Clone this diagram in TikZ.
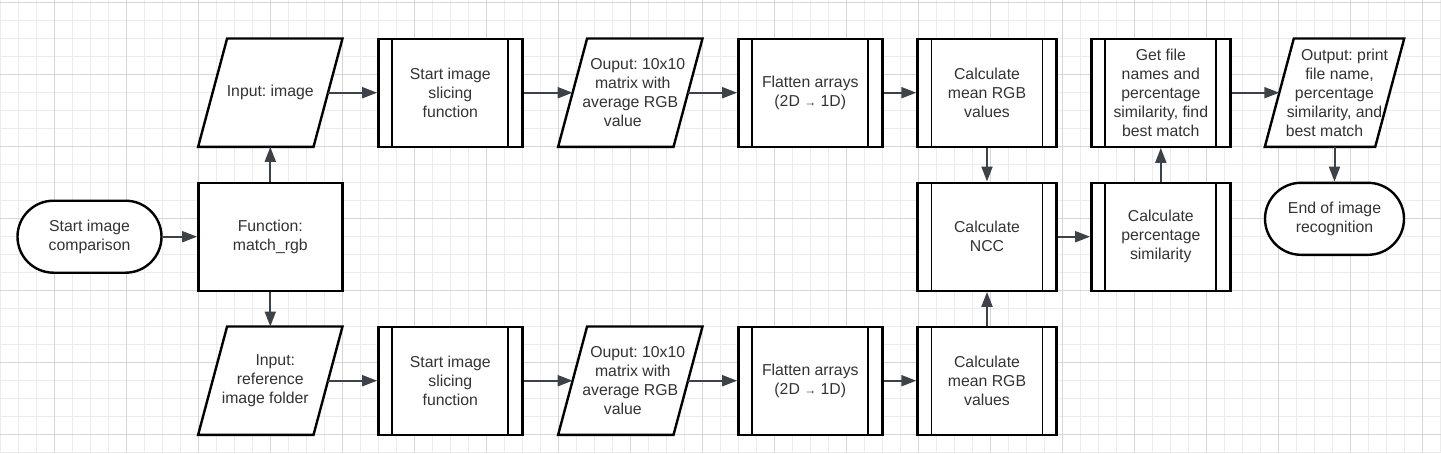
\documentclass[tikz,border=0pt]{standalone}
\usepackage{fontspec}
\setmainfont{Liberation Sans}
\frenchspacing
\usetikzlibrary{arrows.meta}
\definecolor{ink}{HTML}{333333}
\definecolor{linkcol}{HTML}{3D4249}
\definecolor{gridminor}{HTML}{ECECEC}
\definecolor{gridmajor}{HTML}{D6D6D6}
\newcommand{\smallarrow}{{\fontsize{12}{12}\selectfont →}}
% slanted outline of an input/output node (drawn behind its text)
\newcommand{\iopath}[1]{([xshift=-14.5pt]#1.south west) -- ([xshift=14.5pt]#1.north west)
  -- ([xshift=14.5pt]#1.north east) -- ([xshift=-14.5pt]#1.south east) -- cycle}
\pgfdeclarelayer{back}
\pgfsetlayers{back,main}

\begin{document}
\begin{tikzpicture}[
  x=1pt, y=-1pt,
  every node/.style={font=\fontsize{15.8}{19}\selectfont, text=ink, align=center},
  proc/.style={draw=black, line width=2.4pt, rectangle, fill=white,
    minimum width=139pt, minimum height=108pt, inner sep=0pt,
    path picture={
      \draw[black, line width=1.8pt]
        ([xshift=14pt]path picture bounding box.north west) --
        ([xshift=14pt]path picture bounding box.south west);
      \draw[black, line width=1.8pt]
        ([xshift=-14pt]path picture bounding box.north east) --
        ([xshift=-14pt]path picture bounding box.south east);}},
  plainbox/.style={draw=black, line width=2.4pt, rectangle, fill=white,
    minimum width=144pt, minimum height=108pt, inner sep=0pt},
  iobox/.style={rectangle, minimum width=115pt, minimum height=108pt, inner sep=0pt},
  ioline/.style={draw=black, fill=white, line width=2.4pt, line join=miter},
  term/.style={draw=black, line width=2.4pt, rectangle, fill=white,
    rounded corners=36pt, minimum width=144pt, minimum height=72pt, inner sep=0pt},
  link/.style={draw=linkcol, line width=2pt, -{Triangle[length=15pt,width=11pt]}}]

\useasboundingbox (0,0) rectangle (1441,453);

% ------------------------------------------------------------ grid paper
\begin{pgfonlayer}{back}
\foreach \k in {0,...,80}
  \draw[gridminor, line width=1pt] (0.3+18*\k,0) -- (0.3+18*\k,453);
\foreach \k in {0,...,25}
  \draw[gridminor, line width=1pt] (0,2.7+18*\k) -- (1441,2.7+18*\k);
\foreach \k in {3,7,...,79}
  \draw[gridmajor, line width=1pt] (0.3+18*\k,0) -- (0.3+18*\k,453);
\foreach \k in {0,4,...,24}
  \draw[gridmajor, line width=1pt] (0,2.7+18*\k) -- (1441,2.7+18*\k);
\end{pgfonlayer}

% ------------------------------------------------------------ start
\node[term] (start) at (89.5,236.7) {Start image\\comparison};
\node[plainbox] (func) at (270.3,236.7) {Function:\\match\_rgb};

% ------------------------------------------------------------ upper row
\node[iobox] (inimg) at (270.3,92.7) {Input: image};
\node[proc, minimum width=144pt] (sliceA) at (450.3,92.7)
  {Start image\\slicing\\function};
\node[iobox] (outA) at (630.3,92.7)
  {\hspace*{15pt}Ouput: 10x10\\\hspace*{5pt}matrix with\\average RGB\hspace*{5pt}\\value\hspace*{15pt}};
\node[proc, minimum width=144pt] (flatA) at (810.3,92.7)
  {Flatten arrays\\(2D \smallarrow{} 1D)};
\node[proc] (meanA) at (987,92.7) {Calculate\\mean RGB\\values};

% ------------------------------------------------------------ lower row
\node[iobox] (inref) at (270.3,380.7)
  {\hspace*{10pt}Input:\\reference\\image folder\hspace*{10pt}};
\node[proc, minimum width=144pt] (sliceB) at (450.3,380.7)
  {Start image\\slicing\\function};
\node[iobox] (outB) at (630.3,380.7)
  {\hspace*{15pt}Ouput: 10x10\\\hspace*{5pt}matrix with\\average RGB\hspace*{5pt}\\value\hspace*{15pt}};
\node[proc, minimum width=144pt] (flatB) at (810.3,380.7)
  {Flatten arrays\\(2D \smallarrow{} 1D)};
\node[proc] (meanB) at (987,380.7) {Calculate\\mean RGB\\values};

% ------------------------------------------------------------ comparison
\node[proc] (ncc) at (987,236.7) {Calculate\\NCC};
\node[proc] (pct) at (1160.8,236.7) {Calculate\\percentage\\similarity};
\node[proc] (best) at (1160.8,92.7)
  {Get file\\names and\\percentage\\similarity, find\\best match};
\node[iobox, minimum width=110pt] (outC) at (1334.5,92.7)
  {\hspace*{20pt}Output: print\\\hspace*{10pt}file name,\\percentage\\similarity, and\hspace*{10pt}\\best match\hspace*{20pt}};
\node[term, minimum width=139pt] (finish) at (1334.5,218.8)
  {End of image\\recognition};

% outlines of the input/output nodes, under their text
\begin{pgfonlayer}{back}
\foreach \n in {inimg,outA,inref,outB,outC}
  \path[ioline] \iopath{\n};
\end{pgfonlayer}

% ------------------------------------------------------------ connectors
\draw[link] (start) -- (func);
\draw[link] (func) -- (inimg);
\draw[link] (func) -- (inref);
\draw[link] (inimg) -- (sliceA);
\draw[link] (sliceA) -- (outA);
\draw[link] (outA) -- (flatA);
\draw[link] (flatA) -- (meanA);
\draw[link] (inref) -- (sliceB);
\draw[link] (sliceB) -- (outB);
\draw[link] (outB) -- (flatB);
\draw[link] (flatB) -- (meanB);
\draw[link] (meanA) -- (ncc);
\draw[link] (meanB) -- (ncc);
\draw[link] (ncc) -- (pct);
\draw[link] (pct) -- (best);
\draw[link] (best) -- (outC);
\draw[link] (outC) -- (finish);

\end{tikzpicture}
\end{document}
